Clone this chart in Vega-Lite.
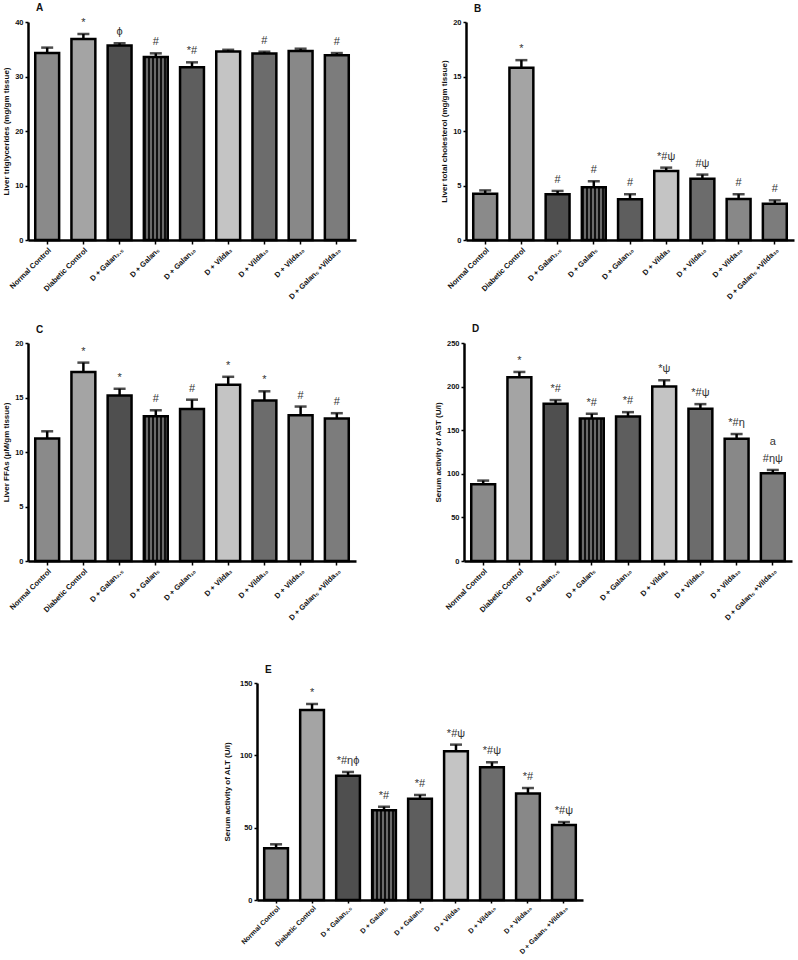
{
  "$schema": "https://vega.github.io/schema/vega-lite/v6.json",
  "padding": {"left": 2, "top": 2, "right": 2, "bottom": 0},
  "background": "white",
  "config": {
    "font": "Liberation Sans",
    "view": {"stroke": null},
    "axis": {"grid": false, "domainColor": "black", "domainWidth": 2.5, "tickColor": "black", "tickWidth": 1.5, "tickSize": 3, "labelFont": "Liberation Sans", "labelFontWeight": "bold", "labelFontSize": 7.5, "labelColor": "#111", "titleFont": "Liberation Sans", "titleFontWeight": "bold", "titleFontSize": 8, "titleColor": "#111", "labelPadding": 2, "titlePadding": 4},
    "axisX": {"labelAngle": -45, "labelAlign": "right", "labelBaseline": "top", "labelOverlap": false, "labelLimit": 0, "tickSize": 4, "labelPadding": 2},
    "title": {"anchor": "start", "frame": "group", "fontSize": 10, "fontWeight": "bold", "font": "Liberation Sans", "offset": 4, "dx": 8, "color": "#111"},
    "text": {"font": "Liberation Sans", "fontSize": 11, "color": "#333"}
  },
  "datasets": {
    "A": [
      {"group": "Normal Control", "mean": 34.3, "upper": 35.3, "sig": ""},
      {"group": "Diabetic Control", "mean": 36.9, "upper": 37.8, "sig": "*"},
      {"group": "D + Galan₂.₅", "mean": 35.7, "upper": 36.1, "sig": "ϕ"},
      {"group": "D + Galan₅", "mean": 33.6, "upper": 34.25, "sig": "#"},
      {"group": "D + Galan₁₀", "mean": 31.7, "upper": 32.6, "sig": "*#"},
      {"group": "D + Vilda₃", "mean": 34.6, "upper": 34.9, "sig": ""},
      {"group": "D + Vilda₁₀", "mean": 34.2, "upper": 34.55, "sig": "#"},
      {"group": "D + Vilda₃₀", "mean": 34.7, "upper": 35.1, "sig": ""},
      {"group": "D + Galan₅ +Vilda₃₀", "mean": 33.9, "upper": 34.3, "sig": "#"}
    ],
    "B": [
      {"group": "Normal Control", "mean": 4.25, "upper": 4.55, "sig": ""},
      {"group": "Diabetic Control", "mean": 15.8, "upper": 16.5, "sig": "*"},
      {"group": "D + Galan₂.₅", "mean": 4.2, "upper": 4.5, "sig": "#"},
      {"group": "D + Galan₅", "mean": 4.85, "upper": 5.4, "sig": "#"},
      {"group": "D + Galan₁₀", "mean": 3.75, "upper": 4.2, "sig": "#"},
      {"group": "D + Vilda₃", "mean": 6.33, "upper": 6.64, "sig": "*#ψ"},
      {"group": "D + Vilda₁₀", "mean": 5.63, "upper": 6.0, "sig": "#ψ"},
      {"group": "D + Vilda₃₀", "mean": 3.76, "upper": 4.2, "sig": "#"},
      {"group": "D + Galan₅ +Vilda₃₀", "mean": 3.33, "upper": 3.64, "sig": "#"}
    ],
    "C": [
      {"group": "Normal Control", "mean": 11.24, "upper": 11.9, "sig": ""},
      {"group": "Diabetic Control", "mean": 17.34, "upper": 18.2, "sig": "*"},
      {"group": "D + Galan₂.₅", "mean": 15.18, "upper": 15.8, "sig": "*"},
      {"group": "D + Galan₅", "mean": 13.28, "upper": 13.83, "sig": "#"},
      {"group": "D + Galan₁₀", "mean": 13.95, "upper": 14.8, "sig": "#"},
      {"group": "D + Vilda₃", "mean": 16.18, "upper": 16.9, "sig": "*"},
      {"group": "D + Vilda₁₀", "mean": 14.72, "upper": 15.57, "sig": "*"},
      {"group": "D + Vilda₃₀", "mean": 13.37, "upper": 14.17, "sig": "#"},
      {"group": "D + Galan₅ +Vilda₃₀", "mean": 13.07, "upper": 13.56, "sig": "#"}
    ],
    "D": [
      {"group": "Normal Control", "mean": 88.0, "upper": 92.2, "sig": "", "sig2": ""},
      {"group": "Diabetic Control", "mean": 210.7, "upper": 216.8, "sig": "*", "sig2": ""},
      {"group": "D + Galan₂.₅", "mean": 180.3, "upper": 184.5, "sig": "*#", "sig2": ""},
      {"group": "D + Galan₅", "mean": 163.5, "upper": 168.8, "sig": "*#", "sig2": ""},
      {"group": "D + Galan₁₀", "mean": 165.8, "upper": 170.7, "sig": "*#", "sig2": ""},
      {"group": "D + Vilda₃", "mean": 200.1, "upper": 207.3, "sig": "*ψ", "sig2": ""},
      {"group": "D + Vilda₁₀", "mean": 174.5, "upper": 179.9, "sig": "*#ψ", "sig2": ""},
      {"group": "D + Vilda₃₀", "mean": 140.2, "upper": 145.6, "sig": "*#η", "sig2": ""},
      {"group": "D + Galan₅ +Vilda₃₀", "mean": 100.6, "upper": 104.4, "sig": "#ηψ", "sig2": "a"}
    ],
    "E": [
      {"group": "Normal Control", "mean": 35.7, "upper": 38.5, "sig": ""},
      {"group": "Diabetic Control", "mean": 131.3, "upper": 135.5, "sig": "*"},
      {"group": "D + Galan₂.₅", "mean": 85.9, "upper": 88.5, "sig": "*#ηϕ"},
      {"group": "D + Galan₅", "mean": 62.0, "upper": 64.5, "sig": "*#"},
      {"group": "D + Galan₁₀", "mean": 70.0, "upper": 72.6, "sig": "*#"},
      {"group": "D + Vilda₃", "mean": 102.8, "upper": 107.4, "sig": "*#ψ"},
      {"group": "D + Vilda₁₀", "mean": 91.7, "upper": 95.2, "sig": "*#ψ"},
      {"group": "D + Vilda₃₀", "mean": 73.7, "upper": 77.4, "sig": "*#"},
      {"group": "D + Galan₅ +Vilda₃₀", "mean": 51.8, "upper": 53.9, "sig": "*#ψ"}
    ]
  },
  "vconcat": [
    {
      "vconcat": [
        {
          "hconcat": [
            {
              "title": "A",
              "width": 328, "height": 218,
              "data": {"name": "A"},
              "encoding": {"x": {"field": "group", "type": "nominal", "sort": null, "scale": {"paddingInner": 0.34, "paddingOuter": 0.2}, "axis": {"title": null}}},
              "layer": [
                {"mark": {"type": "bar", "stroke": "black", "strokeWidth": 2.5}, "encoding": {"y": {"field": "mean", "type": "quantitative", "scale": {"domain": [0, 40], "nice": false}, "axis": {"values": [0, 10, 20, 30, 40], "title": "Liver triglycerides (mg/gm tissue)"}}, "fill": {"condition": [{"test": "datum.group === 'D + Galan₅'", "value": {"gradient": "linear", "x1": 0, "y1": 0, "x2": 1, "y2": 0, "stops": [{"offset": 0, "color": "#111"}, {"offset": 0.0833, "color": "#111"}, {"offset": 0.0833, "color": "#6a6a6a"}, {"offset": 0.1667, "color": "#6a6a6a"}, {"offset": 0.1667, "color": "#111"}, {"offset": 0.25, "color": "#111"}, {"offset": 0.25, "color": "#6a6a6a"}, {"offset": 0.3333, "color": "#6a6a6a"}, {"offset": 0.3333, "color": "#111"}, {"offset": 0.4167, "color": "#111"}, {"offset": 0.4167, "color": "#6a6a6a"}, {"offset": 0.5, "color": "#6a6a6a"}, {"offset": 0.5, "color": "#111"}, {"offset": 0.5833, "color": "#111"}, {"offset": 0.5833, "color": "#6a6a6a"}, {"offset": 0.6667, "color": "#6a6a6a"}, {"offset": 0.6667, "color": "#111"}, {"offset": 0.75, "color": "#111"}, {"offset": 0.75, "color": "#6a6a6a"}, {"offset": 0.8333, "color": "#6a6a6a"}, {"offset": 0.8333, "color": "#111"}, {"offset": 0.9167, "color": "#111"}, {"offset": 0.9167, "color": "#6a6a6a"}, {"offset": 1, "color": "#6a6a6a"}]}}], "field": "group", "type": "nominal", "sort": null, "legend": null, "scale": {"range": ["#8a8a8a", "#a4a4a4", "#4f4f4f", "#393939", "#5e5e5e", "#c4c4c4", "#6c6c6c", "#888888", "#7c7c7c"]}}}},
                {"mark": {"type": "rule", "color": "black", "strokeWidth": 2.5}, "encoding": {"y": {"field": "mean", "type": "quantitative"}, "y2": {"field": "upper"}}},
                {"mark": {"type": "tick", "color": "black", "thickness": 2.5, "size": 12}, "encoding": {"y": {"field": "upper", "type": "quantitative"}}},
                {"mark": {"type": "text", "baseline": "bottom", "dy": -6}, "encoding": {"y": {"field": "upper", "type": "quantitative"}, "text": {"field": "sig"}}}
              ]
            },
            {
              "title": "B",
              "width": 328, "height": 218,
              "data": {"name": "B"},
              "encoding": {"x": {"field": "group", "type": "nominal", "sort": null, "scale": {"paddingInner": 0.34, "paddingOuter": 0.2}, "axis": {"title": null}}},
              "layer": [
                {"mark": {"type": "bar", "stroke": "black", "strokeWidth": 2.5}, "encoding": {"y": {"field": "mean", "type": "quantitative", "scale": {"domain": [0, 20], "nice": false}, "axis": {"values": [0, 5, 10, 15, 20], "title": "Liver total cholesterol (mg/gm tissue)"}}, "fill": {"condition": [{"test": "datum.group === 'D + Galan₅'", "value": {"gradient": "linear", "x1": 0, "y1": 0, "x2": 1, "y2": 0, "stops": [{"offset": 0, "color": "#111"}, {"offset": 0.0833, "color": "#111"}, {"offset": 0.0833, "color": "#6a6a6a"}, {"offset": 0.1667, "color": "#6a6a6a"}, {"offset": 0.1667, "color": "#111"}, {"offset": 0.25, "color": "#111"}, {"offset": 0.25, "color": "#6a6a6a"}, {"offset": 0.3333, "color": "#6a6a6a"}, {"offset": 0.3333, "color": "#111"}, {"offset": 0.4167, "color": "#111"}, {"offset": 0.4167, "color": "#6a6a6a"}, {"offset": 0.5, "color": "#6a6a6a"}, {"offset": 0.5, "color": "#111"}, {"offset": 0.5833, "color": "#111"}, {"offset": 0.5833, "color": "#6a6a6a"}, {"offset": 0.6667, "color": "#6a6a6a"}, {"offset": 0.6667, "color": "#111"}, {"offset": 0.75, "color": "#111"}, {"offset": 0.75, "color": "#6a6a6a"}, {"offset": 0.8333, "color": "#6a6a6a"}, {"offset": 0.8333, "color": "#111"}, {"offset": 0.9167, "color": "#111"}, {"offset": 0.9167, "color": "#6a6a6a"}, {"offset": 1, "color": "#6a6a6a"}]}}], "field": "group", "type": "nominal", "sort": null, "legend": null, "scale": {"range": ["#8a8a8a", "#a4a4a4", "#4f4f4f", "#393939", "#5e5e5e", "#c4c4c4", "#6c6c6c", "#888888", "#7c7c7c"]}}}},
                {"mark": {"type": "rule", "color": "black", "strokeWidth": 2.5}, "encoding": {"y": {"field": "mean", "type": "quantitative"}, "y2": {"field": "upper"}}},
                {"mark": {"type": "tick", "color": "black", "thickness": 2.5, "size": 12}, "encoding": {"y": {"field": "upper", "type": "quantitative"}}},
                {"mark": {"type": "text", "baseline": "bottom", "dy": -6}, "encoding": {"y": {"field": "upper", "type": "quantitative"}, "text": {"field": "sig"}}}
              ]
            }
          ],
          "spacing": 84,
          "resolve": {"scale": {"x": "independent", "y": "independent", "fill": "independent"}}
        },
        {
          "hconcat": [
            {
              "title": "C",
              "width": 328, "height": 218,
              "data": {"name": "C"},
              "encoding": {"x": {"field": "group", "type": "nominal", "sort": null, "scale": {"paddingInner": 0.34, "paddingOuter": 0.2}, "axis": {"title": null}}},
              "layer": [
                {"mark": {"type": "bar", "stroke": "black", "strokeWidth": 2.5}, "encoding": {"y": {"field": "mean", "type": "quantitative", "scale": {"domain": [0, 20], "nice": false}, "axis": {"values": [0, 5, 10, 15, 20], "title": "Liver FFAs (μM/gm tissue)"}}, "fill": {"condition": [{"test": "datum.group === 'D + Galan₅'", "value": {"gradient": "linear", "x1": 0, "y1": 0, "x2": 1, "y2": 0, "stops": [{"offset": 0, "color": "#111"}, {"offset": 0.0833, "color": "#111"}, {"offset": 0.0833, "color": "#6a6a6a"}, {"offset": 0.1667, "color": "#6a6a6a"}, {"offset": 0.1667, "color": "#111"}, {"offset": 0.25, "color": "#111"}, {"offset": 0.25, "color": "#6a6a6a"}, {"offset": 0.3333, "color": "#6a6a6a"}, {"offset": 0.3333, "color": "#111"}, {"offset": 0.4167, "color": "#111"}, {"offset": 0.4167, "color": "#6a6a6a"}, {"offset": 0.5, "color": "#6a6a6a"}, {"offset": 0.5, "color": "#111"}, {"offset": 0.5833, "color": "#111"}, {"offset": 0.5833, "color": "#6a6a6a"}, {"offset": 0.6667, "color": "#6a6a6a"}, {"offset": 0.6667, "color": "#111"}, {"offset": 0.75, "color": "#111"}, {"offset": 0.75, "color": "#6a6a6a"}, {"offset": 0.8333, "color": "#6a6a6a"}, {"offset": 0.8333, "color": "#111"}, {"offset": 0.9167, "color": "#111"}, {"offset": 0.9167, "color": "#6a6a6a"}, {"offset": 1, "color": "#6a6a6a"}]}}], "field": "group", "type": "nominal", "sort": null, "legend": null, "scale": {"range": ["#8a8a8a", "#a4a4a4", "#4f4f4f", "#393939", "#5e5e5e", "#c4c4c4", "#6c6c6c", "#888888", "#7c7c7c"]}}}},
                {"mark": {"type": "rule", "color": "black", "strokeWidth": 2.5}, "encoding": {"y": {"field": "mean", "type": "quantitative"}, "y2": {"field": "upper"}}},
                {"mark": {"type": "tick", "color": "black", "thickness": 2.5, "size": 12}, "encoding": {"y": {"field": "upper", "type": "quantitative"}}},
                {"mark": {"type": "text", "baseline": "bottom", "dy": -6}, "encoding": {"y": {"field": "upper", "type": "quantitative"}, "text": {"field": "sig"}}}
              ]
            },
            {
              "title": "D",
              "width": 328, "height": 218,
              "data": {"name": "D"},
              "encoding": {"x": {"field": "group", "type": "nominal", "sort": null, "scale": {"paddingInner": 0.34, "paddingOuter": 0.2}, "axis": {"title": null}}},
              "layer": [
                {"mark": {"type": "bar", "stroke": "black", "strokeWidth": 2.5}, "encoding": {"y": {"field": "mean", "type": "quantitative", "scale": {"domain": [0, 250], "nice": false}, "axis": {"values": [0, 50, 100, 150, 200, 250], "title": "Serum activity of AST (U/l)"}}, "fill": {"condition": [{"test": "datum.group === 'D + Galan₅'", "value": {"gradient": "linear", "x1": 0, "y1": 0, "x2": 1, "y2": 0, "stops": [{"offset": 0, "color": "#111"}, {"offset": 0.0833, "color": "#111"}, {"offset": 0.0833, "color": "#6a6a6a"}, {"offset": 0.1667, "color": "#6a6a6a"}, {"offset": 0.1667, "color": "#111"}, {"offset": 0.25, "color": "#111"}, {"offset": 0.25, "color": "#6a6a6a"}, {"offset": 0.3333, "color": "#6a6a6a"}, {"offset": 0.3333, "color": "#111"}, {"offset": 0.4167, "color": "#111"}, {"offset": 0.4167, "color": "#6a6a6a"}, {"offset": 0.5, "color": "#6a6a6a"}, {"offset": 0.5, "color": "#111"}, {"offset": 0.5833, "color": "#111"}, {"offset": 0.5833, "color": "#6a6a6a"}, {"offset": 0.6667, "color": "#6a6a6a"}, {"offset": 0.6667, "color": "#111"}, {"offset": 0.75, "color": "#111"}, {"offset": 0.75, "color": "#6a6a6a"}, {"offset": 0.8333, "color": "#6a6a6a"}, {"offset": 0.8333, "color": "#111"}, {"offset": 0.9167, "color": "#111"}, {"offset": 0.9167, "color": "#6a6a6a"}, {"offset": 1, "color": "#6a6a6a"}]}}], "field": "group", "type": "nominal", "sort": null, "legend": null, "scale": {"range": ["#8a8a8a", "#a4a4a4", "#4f4f4f", "#393939", "#5e5e5e", "#c4c4c4", "#6c6c6c", "#888888", "#7c7c7c"]}}}},
                {"mark": {"type": "rule", "color": "black", "strokeWidth": 2.5}, "encoding": {"y": {"field": "mean", "type": "quantitative"}, "y2": {"field": "upper"}}},
                {"mark": {"type": "tick", "color": "black", "thickness": 2.5, "size": 12}, "encoding": {"y": {"field": "upper", "type": "quantitative"}}},
                {"mark": {"type": "text", "baseline": "bottom", "dy": -6}, "encoding": {"y": {"field": "upper", "type": "quantitative"}, "text": {"field": "sig"}}},
                {"mark": {"type": "text", "baseline": "bottom", "dy": -23}, "encoding": {"y": {"field": "upper", "type": "quantitative"}, "text": {"field": "sig2"}}}
              ]
            }
          ],
          "spacing": 78,
          "resolve": {"scale": {"x": "independent", "y": "independent", "fill": "independent"}}
        }
      ],
      "spacing": 22,
      "resolve": {"scale": {"x": "independent", "y": "independent", "fill": "independent"}}
    },
    {
      "hconcat": [
        {
          "width": 195, "height": 217,
          "data": {"values": []},
          "mark": {"type": "point", "opacity": 0},
          "encoding": {}
        },
        {
          "title": "E",
          "width": 326, "height": 217,
          "data": {"name": "E"},
          "encoding": {"x": {"field": "group", "type": "nominal", "sort": null, "scale": {"paddingInner": 0.34, "paddingOuter": 0.2}, "axis": {"title": null, "labelFontSize": 7, "labelPadding": 1, "tickSize": 3}}},
          "layer": [
            {"mark": {"type": "bar", "stroke": "black", "strokeWidth": 2.5}, "encoding": {"y": {"field": "mean", "type": "quantitative", "scale": {"domain": [0, 150], "nice": false}, "axis": {"values": [0, 50, 100, 150], "title": "Serum activity of ALT (U/l)", "titlePadding": 8}}, "fill": {"condition": [{"test": "datum.group === 'D + Galan₅'", "value": {"gradient": "linear", "x1": 0, "y1": 0, "x2": 1, "y2": 0, "stops": [{"offset": 0, "color": "#111"}, {"offset": 0.0833, "color": "#111"}, {"offset": 0.0833, "color": "#6a6a6a"}, {"offset": 0.1667, "color": "#6a6a6a"}, {"offset": 0.1667, "color": "#111"}, {"offset": 0.25, "color": "#111"}, {"offset": 0.25, "color": "#6a6a6a"}, {"offset": 0.3333, "color": "#6a6a6a"}, {"offset": 0.3333, "color": "#111"}, {"offset": 0.4167, "color": "#111"}, {"offset": 0.4167, "color": "#6a6a6a"}, {"offset": 0.5, "color": "#6a6a6a"}, {"offset": 0.5, "color": "#111"}, {"offset": 0.5833, "color": "#111"}, {"offset": 0.5833, "color": "#6a6a6a"}, {"offset": 0.6667, "color": "#6a6a6a"}, {"offset": 0.6667, "color": "#111"}, {"offset": 0.75, "color": "#111"}, {"offset": 0.75, "color": "#6a6a6a"}, {"offset": 0.8333, "color": "#6a6a6a"}, {"offset": 0.8333, "color": "#111"}, {"offset": 0.9167, "color": "#111"}, {"offset": 0.9167, "color": "#6a6a6a"}, {"offset": 1, "color": "#6a6a6a"}]}}], "field": "group", "type": "nominal", "sort": null, "legend": null, "scale": {"range": ["#8a8a8a", "#a4a4a4", "#4f4f4f", "#393939", "#5e5e5e", "#c4c4c4", "#6c6c6c", "#888888", "#7c7c7c"]}}}},
            {"mark": {"type": "rule", "color": "black", "strokeWidth": 2.5}, "encoding": {"y": {"field": "mean", "type": "quantitative"}, "y2": {"field": "upper"}}},
            {"mark": {"type": "tick", "color": "black", "thickness": 2.5, "size": 12}, "encoding": {"y": {"field": "upper", "type": "quantitative"}}},
            {"mark": {"type": "text", "baseline": "bottom", "dy": -6}, "encoding": {"y": {"field": "upper", "type": "quantitative"}, "text": {"field": "sig"}}}
          ]
        }
      ],
      "spacing": 0,
      "resolve": {"scale": {"x": "independent", "y": "independent", "fill": "independent"}}
    }
  ],
  "spacing": 43,
  "resolve": {"scale": {"x": "independent", "y": "independent", "fill": "independent"}}
}
